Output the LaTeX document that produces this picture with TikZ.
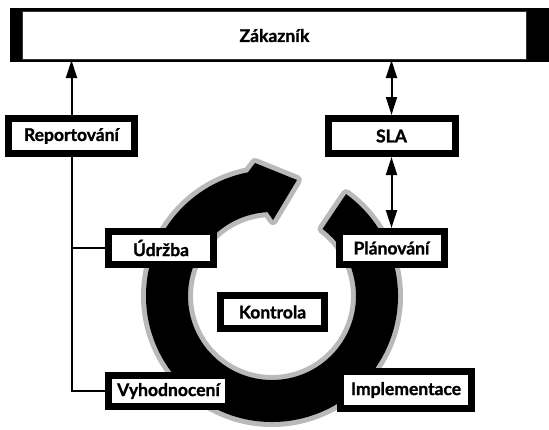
\documentclass[tikz,border=0pt]{standalone}
\usepackage{fontspec}
\setmainfont{Lato}[BoldFeatures={FakeBold=1.2}]
\usepackage{tikz}
\usetikzlibrary{calc,arrows.meta}
\tikzstyle{box} = [rectangle, draw=black, line width=7pt, fill=white,
    inner sep=1pt, text centered, font=\fontsize{17.5}{19}\selectfont\bfseries]
\tikzstyle{customer} = [rectangle, draw=black!80, line width=1.2pt, fill=white,
    minimum width=504pt, minimum height=48pt, font=\fontsize{17.5}{19}\selectfont\bfseries]
\tikzstyle{link} = [line width=2pt, -{Triangle[length=18pt,width=11pt]}]
\tikzstyle{both} = [line width=2pt, {Triangle[length=18pt,width=11pt]}-{Triangle[length=18pt,width=11pt]}]
\tikzstyle{branch} = [line width=2pt]
\tikzstyle{ringedge} = [draw=gray!55, line width=10pt, line join=round]
% ring with arrow head, centre (c)
\newcommand{\cyclepath}{($(c)+(-54:126)$) arc[start angle=-54, end angle=259, radius=126]
    -- (255,163) -- (297,180) -- (273,220)
    -- ($(c)+(267:84)$) arc[start angle=267, end angle=-53, radius=84] -- cycle}

\begin{document}
\begin{tikzpicture}[x=1pt, y=-1pt, node distance=112pt]
        \useasboundingbox (0,0) rectangle (549,429);
        % circular arrow
        \coordinate (c) at (272,296);
        \path[ringedge] \cyclepath;
        \fill[black] \cyclepath;
        % customer bar
        \fill[black] (10,8) rectangle (549,62);
        \node (zakaznik) [customer] at (274.5,35.5) {Zákazník};
        \node (report) [box, minimum width=126pt, minimum height=35pt] at (71.5,136) {Reportování};
        \node (sla) [box, minimum width=127pt, minimum height=35pt] at (391.5,136) {SLA};
        \node (planovani) [box, below of=sla, minimum width=105pt, minimum height=33pt] {Plánování};
        \node (udrzba) [box, minimum width=105pt, minimum height=33pt] at (161,248) {Údržba};
        \node (kontrola) [box, minimum width=104pt, minimum height=33pt] at (272.5,312) {Kontrola};
        \node (vyhod) [box, minimum width=120pt, minimum height=31pt] at (168.5,391) {Vyhodnocení};
        \node (implem) [box, minimum width=131pt, minimum height=37pt] at (406,390) {Implementace};
        \draw [link] (report.north) -- (report.north |- zakaznik.south);
        \draw [both] (sla.north) -- (sla.north |- zakaznik.south);
        \draw [both] (sla) -- (planovani);
        \draw [branch] (report.south) |- (vyhod.west);
        \draw [branch] (report.south |- udrzba) -- (udrzba.west);
    \end{tikzpicture}
\end{document}
